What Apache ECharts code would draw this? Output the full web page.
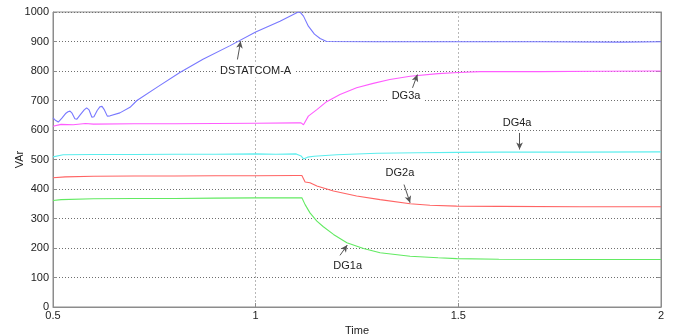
<!DOCTYPE html>
<html>
<head>
<meta charset="utf-8">
<script src="https://cdn.jsdelivr.net/npm/echarts@6/dist/echarts.min.js"></script>
<style>
html,body{margin:0;padding:0;background:#fff;}
#chart{width:678px;height:335px;}
</style>
</head>
<body>
<div id="chart"></div>
<script>
// ---- data (time [s], reactive power [VAr]) ----
var xTicks = [0.5, 1, 1.5, 2];
var yTicks = [0, 100, 200, 300, 400, 500, 600, 700, 800, 900, 1000];

var dstatcom = [[0.5,641],[0.505,634],[0.513,627],[0.522,640],[0.532,657],[0.537,662],[0.542,664],[0.547,657],[0.554,638],[0.559,637],[0.567,651],[0.577,668],[0.583,675],[0.589,668],[0.596,643],[0.601,645],[0.609,666],[0.616,679],[0.621,680],[0.626,670],[0.634,647],[0.641,648],[0.665,658],[0.69,677],[0.707,700],[0.76,748],[0.813,795],[0.87,840],[0.937,886],[1.0,932],[1.06,969],[1.105,1000],[1.11,999],[1.118,986],[1.13,952],[1.145,925],[1.159,910],[1.175,900],[1.3,899],[1.5,899],[1.7,899],[1.9,898],[2.0,899]];
var dg3a = [[0.5,613],[0.52,619],[0.55,618],[0.58,622],[0.6,620],[0.7,621],[0.8,621],[0.9,622],[1.0,623],[1.1,624],[1.112,624],[1.118,618],[1.122,622],[1.13,647],[1.151,669],[1.175,696],[1.208,720],[1.249,743],[1.29,758],[1.331,771],[1.381,782],[1.45,791],[1.5,795],[1.554,798],[1.7,798],[1.85,799],[2.0,800]];
var dg4a = [[0.5,509],[0.525,516],[0.6,517],[0.7,517],[0.8,518],[0.9,518],[1.0,519],[1.05,518],[1.1,519],[1.112,512],[1.118,502],[1.128,508],[1.144,511],[1.2,516],[1.3,521],[1.4,523],[1.5,524],[1.6,525],[1.8,525],[2.0,526]];
var dg2a = [[0.5,438],[0.53,441],[0.6,443],[0.7,444],[0.8,444],[0.9,445],[1.0,445],[1.1,446],[1.114,446],[1.122,424],[1.134,421],[1.151,410],[1.192,393],[1.249,376],[1.307,364],[1.381,350],[1.43,345],[1.496,342],[1.6,341],[1.8,340],[2.0,340]];
var dg1a = [[0.5,361],[0.52,364],[0.6,367],[0.7,368],[0.8,368],[0.9,369],[1.0,370],[1.1,370],[1.114,370],[1.122,347],[1.134,319],[1.151,291],[1.167,272],[1.192,246],[1.225,218],[1.266,198],[1.307,184],[1.381,172],[1.45,167],[1.496,164],[1.6,162],[1.8,161],[2.0,161]];

// annotations: label position and arrow [tail, head] in data coords
var annLabels = [
  {name:'DSTATCOM-A', at:[1.0, 801]},
  {name:'DG3a', at:[1.371, 715]},
  {name:'DG4a', at:[1.645, 624]},
  {name:'DG2a', at:[1.356, 455]},
  {name:'DG1a', at:[1.227, 138]}
];
var annArrows = [
  [[0.955, 839],[0.963, 901]],
  [[1.387, 743],[1.399, 788]],
  [[1.651, 590],[1.651, 534]],
  [[1.366, 415],[1.381, 353]],
  [[1.208, 175],[1.226, 210]]
];

var FONT = '"Liberation Sans", Arial, sans-serif';
var chart = echarts.init(document.getElementById('chart'), null, {renderer:'canvas'});

function lineSeries(name, data, color){
  return {name:name, type:'line', data:data, showSymbol:false, symbol:'none',
    lineStyle:{color:color, width:1.1}, itemStyle:{color:color}, silent:true, z:3};
}

var option = {
  animation:false,
  grid:{left:53, right:17, top:12, bottom:28, containLabel:false, outerBoundsMode:'none',
    show:true, borderColor:'#8c8c8c', borderWidth:1, backgroundColor:'#fff'},
  xAxis:[{
    type:'value', min:0.5, max:2, interval:0.5,
    name:'Time', nameLocation:'middle', nameGap:18, nameMoveOverlap:false,
    nameTextStyle:{fontFamily:FONT, fontSize:11, color:'#222'},
    axisLine:{show:true, lineStyle:{color:'#8c8c8c', width:1}},
    axisTick:{show:true, inside:true, length:4, lineStyle:{color:'#8c8c8c'}},
    axisLabel:{fontFamily:FONT, fontSize:11, color:'#222', margin:3,
      formatter:function(v){return String(v);}},
    splitLine:{show:true, lineStyle:{color:'#b8b8b8', type:[2,2], width:1}}
  }],
  yAxis:[{
    type:'value', min:0, max:1000, interval:100,
    name:'VAr', nameLocation:'middle', nameGap:28, nameMoveOverlap:false,
    nameTextStyle:{fontFamily:FONT, fontSize:11, color:'#222'},
    axisLine:{show:true, lineStyle:{color:'#8c8c8c', width:1}},
    axisTick:{show:true, inside:true, length:4, lineStyle:{color:'#8c8c8c'}},
    axisLabel:{fontFamily:FONT, fontSize:11, color:'#222', margin:4,
      formatter:function(v){return String(v);}},
    splitLine:{show:true, lineStyle:{color:'#6e6e6e', type:[1,2], width:1}}
  },{
    type:'value', min:0, max:1000, interval:100, position:'right',
    axisLine:{show:true, lineStyle:{color:'#8c8c8c', width:1}},
    axisTick:{show:true, inside:true, length:4, lineStyle:{color:'#8c8c8c'}},
    axisLabel:{show:false}, splitLine:{show:false}
  }],
  series:[
    lineSeries('DSTATCOM-A', dstatcom, '#7878ff'),
    lineSeries('DG3a', dg3a, '#ff5cff'),
    lineSeries('DG4a', dg4a, '#5ceeee'),
    lineSeries('DG2a', dg2a, '#ff6464'),
    lineSeries('DG1a', dg1a, '#62ea62'),
    {
      name:'annotations', type:'line', data:[], silent:true, z:5,
      markLine:{
        silent:true, animation:false,
        symbol:['none','arrow'], symbolSize:[5,7],
        lineStyle:{color:'#555', width:1, type:'solid'},
        label:{show:false},
        data: annArrows.map(function(a){ return [{coord:a[0]},{coord:a[1]}]; })
      },
      markPoint:{
        silent:true, animation:false,
        symbol:'rect', symbolSize:1, itemStyle:{color:'rgba(0,0,0,0)'},
        label:{show:true, position:'inside', formatter:'{b}', fontFamily:FONT, fontSize:11, color:'#222',
          backgroundColor:'#fff', padding:[1,3]},
        data: annLabels.map(function(a){ return {name:a.name, coord:a.at}; })
      }
    }
  ]
};
chart.setOption(option);
</script>
</body>
</html>
